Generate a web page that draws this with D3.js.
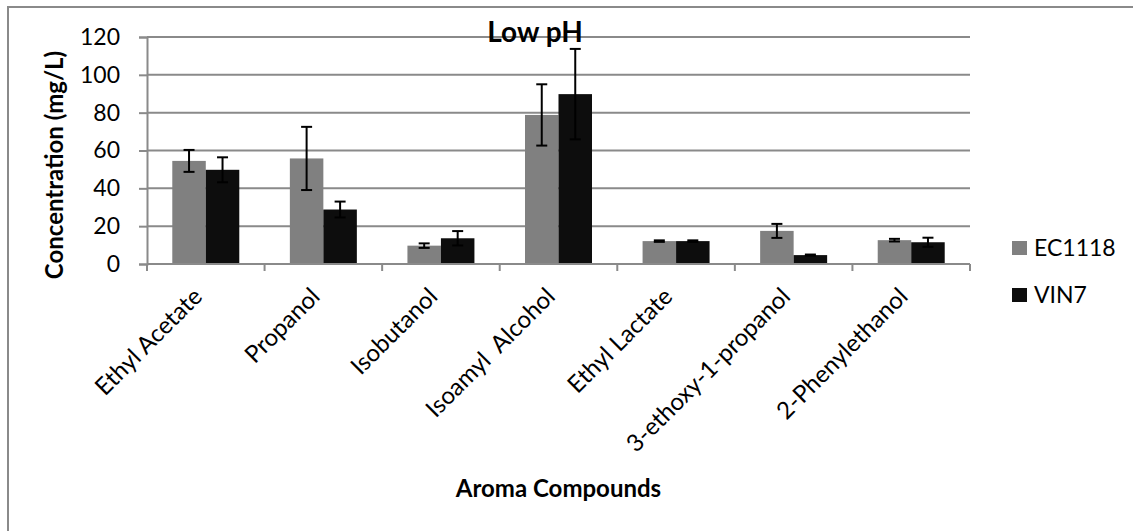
<!DOCTYPE html>
<html>
<head>
<meta charset="utf-8">
<script src="https://cdn.jsdelivr.net/npm/d3@7"></script>
<style>
  html, body { margin: 0; padding: 0; background: #fff; }
  svg { display: block; font-family: Lato, "Open Sans", sans-serif; }
  text { white-space: pre; }
</style>
</head>
<body>
<svg id="chart" width="1133" height="531"></svg>
<script>
// Aroma compound concentrations (mg/L) at low pH, two yeast strains
const categories = ["Ethyl Acetate", "Propanol", "Isobutanol", "Isoamyl  Alcohol",
                    "Ethyl Lactate", "3-ethoxy-1-propanol", "2-Phenylethanol"];
const seriesNames = ["EC1118", "VIN7"];
const ec1118 = [54.5, 55.8, 9.7, 78.8, 12.1, 17.5, 12.6];
const ec1118Err = [5.8, 16.7, 1.2, 16.2, 0.4, 3.7, 0.7];
const vin7 = [49.8, 28.8, 13.6, 89.8, 12.1, 4.7, 11.5];
const vin7Err = [6.6, 4.2, 3.8, 23.9, 0.4, 0.3, 2.4];
const yTicks = [0, 20, 40, 60, 80, 100, 120];

const colors = { EC1118: "#808080", VIN7: "#0d0d0d" };
const gridColor = "#8a8a8a";

const svg = d3.select("#chart");

// chart frame
svg.append("path")
  .attr("d", "M8,540 V7 H1140")
  .attr("fill", "none")
  .attr("stroke", gridColor)
  .attr("stroke-width", 2);

const plot = { left: 147, right: 970, top: 37, bottom: 264 };

const x = d3.scaleBand().domain(categories).range([plot.left, plot.right]).padding(0);
const xs = d3.scaleBand().domain(seriesNames).range([0, x.bandwidth()])
  .paddingInner(0).paddingOuter(0.755);
const y = d3.scaleLinear().domain([0, 120]).range([plot.bottom, plot.top]);

// horizontal gridlines
svg.append("g").selectAll("line").data(yTicks.filter(t => t > 0)).join("line")
  .attr("x1", plot.left).attr("x2", plot.right)
  .attr("y1", d => y(d)).attr("y2", d => y(d))
  .attr("stroke", gridColor).attr("stroke-width", 2);

// y axis
const yAxis = svg.append("g")
  .attr("transform", `translate(${plot.left},0)`)
  .call(d3.axisLeft(y).tickValues(yTicks).tickSize(8).tickPadding(19));
yAxis.select(".domain").attr("stroke", gridColor).attr("stroke-width", 2);
yAxis.selectAll(".tick line").attr("stroke", gridColor).attr("stroke-width", 2);
yAxis.selectAll(".tick text")
  .attr("font-size", 23).attr("fill", "#000").attr("font-family", "Lato");

// bars
const rows = categories.map((c, i) => ({
  cat: c,
  vals: [
    { s: "EC1118", v: ec1118[i], e: ec1118Err[i] },
    { s: "VIN7", v: vin7[i], e: vin7Err[i] }
  ]
}));

const groups = svg.append("g").selectAll("g").data(rows).join("g")
  .attr("transform", d => `translate(${x(d.cat)},0)`);

groups.selectAll("rect").data(d => d.vals).join("rect")
  .attr("x", d => xs(d.s))
  .attr("width", xs.bandwidth())
  .attr("y", d => y(d.v))
  .attr("height", d => y(0) - y(d.v))
  .attr("fill", d => colors[d.s]);

// x axis line and category boundary ticks
const boundaries = categories.map(c => x(c)).concat([plot.right]);
svg.append("line")
  .attr("x1", plot.left).attr("x2", plot.right)
  .attr("y1", y(0)).attr("y2", y(0))
  .attr("stroke", gridColor).attr("stroke-width", 2);
svg.append("g").selectAll("line").data(boundaries).join("line")
  .attr("x1", d => d).attr("x2", d => d)
  .attr("y1", y(0)).attr("y2", y(0) + 7)
  .attr("stroke", gridColor).attr("stroke-width", 2);

// error bars
const capHalf = 5.5;
const eb = groups.selectAll("g.err").data(d => d.vals).join("g").attr("class", "err")
  .attr("stroke", "#000").attr("stroke-width", 2).attr("fill", "none");
eb.append("line")
  .attr("x1", d => xs(d.s) + xs.bandwidth() / 2).attr("x2", d => xs(d.s) + xs.bandwidth() / 2)
  .attr("y1", d => y(d.v + d.e)).attr("y2", d => y(d.v - d.e));
eb.append("line")
  .attr("x1", d => xs(d.s) + xs.bandwidth() / 2 - capHalf).attr("x2", d => xs(d.s) + xs.bandwidth() / 2 + capHalf)
  .attr("y1", d => y(d.v + d.e)).attr("y2", d => y(d.v + d.e));
eb.append("line")
  .attr("x1", d => xs(d.s) + xs.bandwidth() / 2 - capHalf).attr("x2", d => xs(d.s) + xs.bandwidth() / 2 + capHalf)
  .attr("y1", d => y(d.v - d.e)).attr("y2", d => y(d.v - d.e));

// rotated category labels
svg.append("g").selectAll("text").data(categories).join("text")
  .attr("transform", d => `translate(${x(d) + x.bandwidth() / 2 - 2},${y(0) + 34}) rotate(-45)`)
  .attr("text-anchor", "end")
  .attr("font-size", 24)
  .attr("fill", "#000")
  .text(d => d);

// titles
svg.append("text")
  .attr("x", 535).attr("y", 42)
  .attr("text-anchor", "middle")
  .attr("font-size", 28).attr("font-weight", "bold")
  .text("Low pH");

svg.append("text")
  .attr("x", (plot.left + plot.right) / 2).attr("y", 497)
  .attr("text-anchor", "middle")
  .attr("font-size", 24).attr("font-weight", "bold")
  .text("Aroma Compounds");

svg.append("text")
  .attr("transform", `translate(63,165) rotate(-90)`)
  .attr("text-anchor", "middle")
  .attr("font-size", 24).attr("font-weight", "bold")
  .text("Concentration (mg/L)");

// legend
const legend = svg.append("g").selectAll("g").data(seriesNames).join("g")
  .attr("transform", (d, i) => `translate(1012,${241 + i * 47})`);
legend.append("rect").attr("width", 15).attr("height", 14).attr("fill", d => colors[d]);
legend.append("text")
  .attr("x", 22).attr("y", 15)
  .attr("font-size", 23).attr("fill", "#000")
  .text(d => d);
</script>
</body>
</html>
